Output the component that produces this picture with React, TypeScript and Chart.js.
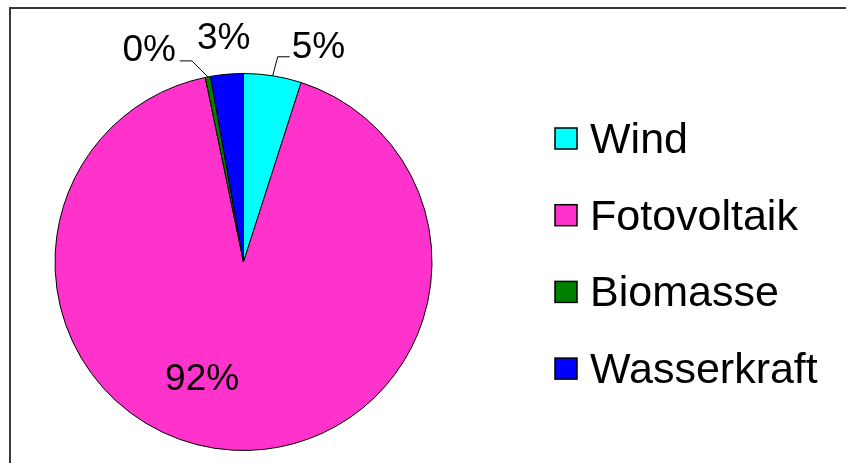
import React, { useEffect, useRef } from "react";
import { Chart, registerables } from "chart.js";

Chart.register(...registerables);

const categories = ["Wind", "Fotovoltaik", "Biomasse", "Wasserkraft"];
const shares = [4.95, 91.8, 0.45, 2.8];
const colors = ["#00FFFF", "#FF33CC", "#008000", "#0000FF"];

const FONT = "'Liberation Sans', Arial, Helvetica, sans-serif";

const pctLabels = {
  id: "pctLabels",
  afterDatasetsDraw(chart: any) {
    const ctx = chart.ctx;
    const meta = chart.getDatasetMeta(0);
    const data = chart.data.datasets[0].data as number[];
    const total = data.reduce((a, b) => a + b, 0);
    ctx.save();
    ctx.font = `37px ${FONT}`;
    ctx.fillStyle = "#000";
    ctx.strokeStyle = "#000";
    ctx.lineWidth = 1;
    meta.data.forEach((arc: any, i: number) => {
      const { x, y, startAngle, endAngle, outerRadius } = arc.getProps(
        ["x", "y", "startAngle", "endAngle", "outerRadius"],
        true
      );
      const mid = (startAngle + endAngle) / 2;
      const text = Math.round((data[i] / total) * 100) + "%";
      const ex = x + Math.cos(mid) * outerRadius;
      const ey = y + Math.sin(mid) * outerRadius;
      if (i === 0) {
        const bx = ex + 5, by = ey - 19;
        const cx = bx + 12;
        ctx.beginPath();
        ctx.moveTo(ex, ey);
        ctx.lineTo(bx, by);
        ctx.lineTo(cx, by);
        ctx.stroke();
        ctx.textAlign = "left";
        ctx.textBaseline = "alphabetic";
        ctx.fillText(text, cx + 2, by + 1);
      } else if (i === 2) {
        const bx = ex - 16, by = ey - 16;
        const cx = bx - 12;
        ctx.beginPath();
        ctx.moveTo(ex, ey);
        ctx.lineTo(bx, by);
        ctx.lineTo(cx, by);
        ctx.stroke();
        ctx.textAlign = "right";
        ctx.textBaseline = "alphabetic";
        ctx.fillText(text, cx - 4, by);
      } else if (i === 3) {
        const r = outerRadius + 37;
        const tx = x + Math.cos(mid) * r;
        const ty = y + Math.sin(mid) * r;
        ctx.textAlign = "center";
        ctx.textBaseline = "alphabetic";
        ctx.fillText(text, tx, ty + 12);
      } else {
        const a = mid + (16.7 * Math.PI) / 180;
        const r = outerRadius * 0.649;
        const tx = x + Math.cos(a) * r;
        const ty = y + Math.sin(a) * r;
        ctx.textAlign = "center";
        ctx.textBaseline = "alphabetic";
        ctx.fillText(text, tx, ty + 13);
      }
    });
    ctx.restore();
  },
};

const sideLegend = {
  id: "sideLegend",
  afterDraw(chart: any) {
    const ctx = chart.ctx;
    const ds = chart.data.datasets[0];
    const labels = chart.data.labels as string[];
    const boxX = 544;
    const textX = 579;
    const firstBaseline = 144;
    const step = 76.7;
    ctx.save();
    ctx.font = `43px ${FONT}`;
    ctx.textAlign = "left";
    ctx.textBaseline = "alphabetic";
    labels.forEach((lab, i) => {
      const base = firstBaseline + i * step;
      ctx.fillStyle = ds.backgroundColor[i];
      ctx.fillRect(boxX, base - 25, 22, 21);
      ctx.strokeStyle = "#000";
      ctx.lineWidth = 1.5;
      ctx.strokeRect(boxX, base - 25, 22, 21);
      ctx.fillStyle = "#000";
      ctx.fillText(lab, textX, base);
    });
    ctx.restore();
  },
};

export default function App() {
  const ref = useRef<HTMLCanvasElement>(null);
  useEffect(() => {
    if (!ref.current) return;
    const chart = new Chart(ref.current, {
      type: "pie",
      data: {
        labels: categories,
        datasets: [
          {
            data: shares,
            backgroundColor: colors,
            borderColor: "#000",
            borderWidth: 1,
            radius: 188.5,
          } as any,
        ],
      },
      options: {
        responsive: false,
        animation: false,
        layout: { padding: { left: 0, right: 370, top: 52, bottom: 0 } },
        plugins: {
          legend: { display: false },
          tooltip: { enabled: false },
        },
      },
      plugins: [pctLabels, sideLegend],
    });
    return () => chart.destroy();
  }, []);
  return (
    <div
      style={{
        position: "fixed",
        left: 9,
        top: 7,
        width: 837,
        height: 456,
        borderTop: "2px solid #3a3a3a",
        borderLeft: "2px solid #3a3a3a",
        boxSizing: "border-box",
        background: "#fff",
      }}
    >
      <canvas ref={ref} width={835} height={454} style={{ display: "block" }} />
    </div>
  );
}
